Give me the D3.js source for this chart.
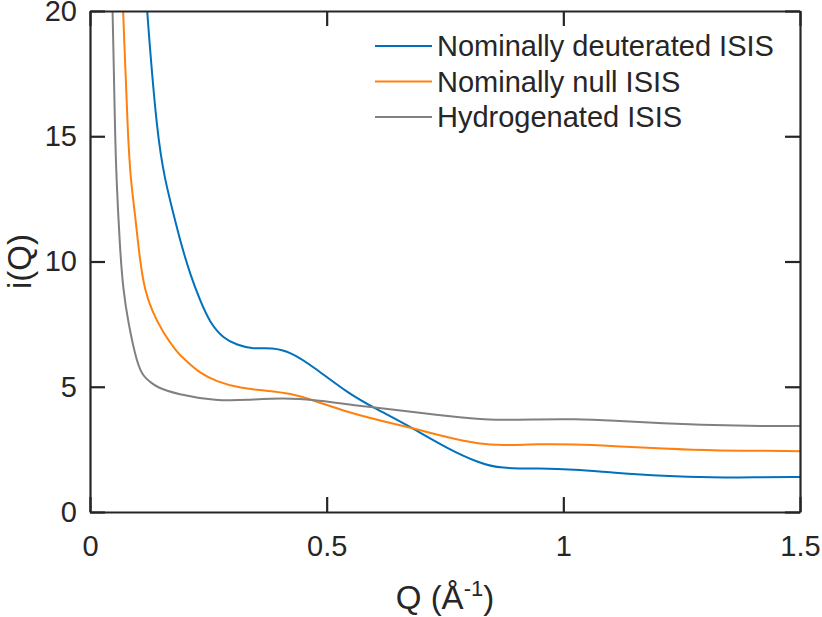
<!DOCTYPE html>
<html>
<head>
<meta charset="utf-8">
<script src="https://cdn.jsdelivr.net/npm/d3@7"></script>
<style>
  body { margin: 0; background: #fff; }
  text { font-family: "Liberation Sans", Arial, Helvetica, sans-serif; fill: #262626; }
</style>
</head>
<body>
<div id="chart"></div>
<script>
var margin = { top: 11, right: 22, bottom: 105, left: 90 },
    width = 822 - margin.left - margin.right,
    height = 617 - margin.top - margin.bottom;

// values (Q in 1/Angstrom, i(Q))
var qDeut = [0.103, 0.120, 0.142, 0.1585, 0.176, 0.194, 0.211, 0.232, 0.254, 0.282, 0.310, 0.344, 0.385, 0.425, 0.472, 0.545, 0.602, 0.683, 0.754, 0.824, 0.866, 0.951, 1.021, 1.106, 1.211, 1.317, 1.400, 1.500];
var iDeut = [25.0, 20.0, 15.0, 13.25, 11.92, 10.59, 9.53, 8.46, 7.53, 6.93, 6.67, 6.5, 6.57, 6.38, 5.8, 4.74, 4.14, 3.34, 2.54, 1.94, 1.74, 1.74, 1.70, 1.57, 1.44, 1.38, 1.38, 1.40];

var qNull = [0.062, 0.070, 0.080, 0.086, 0.095, 0.106, 0.116, 0.130, 0.155, 0.183, 0.201, 0.232, 0.268, 0.317, 0.373, 0.423, 0.475, 0.545, 0.613, 0.683, 0.754, 0.824, 0.866, 0.951, 1.021, 1.106, 1.211, 1.317, 1.500];
var iNull = [24.0, 20.0, 15.0, 13.25, 11.92, 9.93, 8.86, 8.06, 7.13, 6.4, 6.07, 5.54, 5.2, 4.94, 4.84, 4.74, 4.44, 3.98, 3.65, 3.34, 2.98, 2.71, 2.66, 2.71, 2.70, 2.63, 2.53, 2.45, 2.43];

var qHyd = [0.042, 0.048, 0.053, 0.056, 0.063, 0.070, 0.081, 0.099, 0.113, 0.127, 0.141, 0.183, 0.268, 0.331, 0.408, 0.479, 0.585, 0.683, 0.754, 0.838, 0.951, 1.021, 1.106, 1.211, 1.317, 1.422, 1.500];
var iHyd = [24.0, 20.0, 15.0, 13.25, 10.59, 8.86, 7.53, 5.95, 5.4, 5.2, 4.98, 4.7, 4.43, 4.47, 4.56, 4.47, 4.2, 4.0, 3.83, 3.65, 3.70, 3.71, 3.65, 3.54, 3.46, 3.43, 3.43];

var seriesNames = ["Nominally deuterated ISIS", "Nominally null ISIS", "Hydrogenated ISIS"];
var colors = ["#0072BD", "#FF800E", "#808080"];
var xTicks = [0, 0.5, 1, 1.5];
var yTicks = [0, 5, 10, 15, 20];

var series = [
    { name: seriesNames[0], q: qDeut, v: iDeut, color: colors[0] },
    { name: seriesNames[1], q: qNull, v: iNull, color: colors[1] },
    { name: seriesNames[2], q: qHyd, v: iHyd, color: colors[2] }
];

var svg = d3.select("#chart").append("svg")
    .attr("width", 822)
    .attr("height", 617)
    .append("g")
    .attr("transform", "translate(" + margin.left + "," + margin.top + ")");

var x = d3.scaleLinear().domain([0, 1.5]).range([0, width]);
var y = d3.scaleLinear().domain([0, 20]).range([height, 0]);

svg.append("clipPath").attr("id", "plotclip")
    .append("rect").attr("width", width).attr("height", height);

// basis spline smooths out small reading jitter between the picked points
var line = d3.line()
    .x(function(d) { return x(d[0]); })
    .y(function(d) { return y(d[1]); })
    .curve(d3.curveBasis);

svg.append("g").attr("clip-path", "url(#plotclip)")
    .selectAll("path")
    .data(series)
    .enter().append("path")
    .attr("d", function(s) { return line(d3.zip(s.q, s.v)); })
    .attr("fill", "none")
    .attr("stroke", function(s) { return s.color; })
    .attr("stroke-width", 2);

// axes, MATLAB style: box with inward ticks on all sides
var tickLen = 15;
function styleAxis(g) {
    g.selectAll("path").attr("stroke", "#262626").attr("stroke-width", 2.2);
    g.selectAll("line").attr("stroke", "#262626").attr("stroke-width", 2.2);
}

var xAxis = svg.append("g")
    .attr("transform", "translate(0," + height + ")")
    .call(d3.axisBottom(x).tickValues(xTicks).tickSizeInner(-tickLen).tickSizeOuter(0)
        .tickPadding(23).tickFormat(d3.format("")))
    .call(styleAxis);
xAxis.selectAll("text").attr("font-size", 29).attr("fill", "#262626");

var yAxis = svg.append("g")
    .call(d3.axisLeft(y).tickValues(yTicks).tickSizeInner(-tickLen).tickSizeOuter(0)
        .tickPadding(13))
    .call(styleAxis);
yAxis.selectAll("text").attr("font-size", 29).attr("fill", "#262626");

svg.append("g")
    .call(d3.axisTop(x).tickValues(xTicks).tickSizeInner(-tickLen).tickSizeOuter(0).tickFormat(""))
    .call(styleAxis);
svg.append("g")
    .attr("transform", "translate(" + width + ",0)")
    .call(d3.axisRight(y).tickValues(yTicks).tickSizeInner(-tickLen).tickSizeOuter(0).tickFormat(""))
    .call(styleAxis);

// axis labels
var xLabel = svg.append("text")
    .attr("x", width / 2)
    .attr("y", height + 97)
    .attr("text-anchor", "middle")
    .attr("font-size", 33);
xLabel.append("tspan").text("Q (Å");
xLabel.append("tspan").attr("font-size", 22).attr("dy", -13).text("-1");
xLabel.append("tspan").attr("dy", 13).text(")");

svg.append("text")
    .attr("transform", "translate(" + (31 - margin.left) + "," + (height / 2) + ") rotate(-90)")
    .attr("text-anchor", "middle")
    .attr("font-size", 33)
    .text("i(Q)");

// legend
var legend = svg.selectAll(".legend")
    .data(series)
    .enter().append("g")
    .attr("class", "legend")
    .attr("transform", function(d, i) { return "translate(0," + (35 + i * 35.5) + ")"; });

legend.append("line")
    .attr("x1", 285).attr("x2", 342)
    .attr("stroke", function(d) { return d.color; })
    .attr("stroke-width", 2);

legend.append("text")
    .attr("x", 347)
    .attr("dy", "0.35em")
    .attr("font-size", 29)
    .text(function(d) { return d.name; });
</script>
</body>
</html>
